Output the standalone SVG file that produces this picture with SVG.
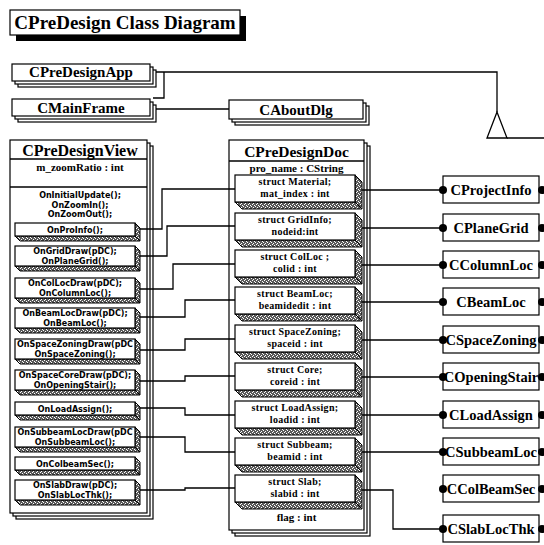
<svg xmlns="http://www.w3.org/2000/svg" width="544" height="545" viewBox="0 0 544 545">
<defs>
<pattern id="ht" width="4" height="4" patternUnits="userSpaceOnUse"><rect width="4" height="4" fill="#5a5a5a"/><path d="M0,0h1v1h-1zM2,1h1v1h-1zM1,3h1v1h-1zM3,2h1v1h-1z" fill="#fff"/></pattern>
</defs>
<style>
.b{fill:#fff;stroke:#000;stroke-width:1.2}
.h{fill:url(#ht);stroke:#000;stroke-width:1}
.ln{fill:none;stroke:#000;stroke-width:1.3}
.t{font-family:"Liberation Serif",serif;font-weight:bold;text-anchor:middle;fill:#000}
.m{font-family:"DejaVu Sans","Liberation Sans",sans-serif;font-weight:bold;font-size:8px;text-anchor:middle;fill:#000}
.s{font-size:10px;letter-spacing:0.3px}
.a{font-size:11px}
.c{font-size:14.5px}
.dot{fill:#000}
</style>
<rect width="544" height="545" fill="#fff"/>

<g id="title">
<rect x="16" y="16" width="230" height="25" fill="#000"/>
<rect class="b" x="10" y="10" width="230" height="25"/>
<text class="t" x="125" y="29" font-size="19">CPreDesign Class Diagram</text>
</g>

<g id="CPreDesignApp">
<rect class="b" x="18" y="70" width="138" height="17"/>
<rect class="b" x="15" y="67" width="138" height="17"/>
<rect class="b" x="12" y="64" width="138" height="17"/>
<text class="t" x="81" y="77" font-size="15">CPreDesignApp</text>
</g>

<g id="CMainFrame">
<rect class="b" x="18" y="105" width="138" height="17"/>
<rect class="b" x="15" y="102" width="138" height="17"/>
<rect class="b" x="12" y="99" width="138" height="17"/>
<text class="t" x="81" y="112.5" font-size="15">CMainFrame</text>
</g>

<g id="CAboutDlg">
<rect class="b" x="235" y="106" width="134" height="19"/>
<rect class="b" x="232" y="103" width="134" height="19"/>
<rect class="b" x="229" y="100" width="134" height="19"/>
<text class="t" x="296" y="114.5" font-size="15">CAboutDlg</text>
</g>

<g id="CPreDesignView">
<rect class="b" x="16" y="146" width="137" height="373"/>
<rect class="b" x="13" y="143" width="137" height="373"/>
<rect class="b" x="10" y="140" width="137" height="373"/>
<line class="ln" x1="10" y1="159" x2="147" y2="159"/>
<line class="ln" x1="10" y1="187" x2="147" y2="187"/>
<text class="t" x="80" y="155.5" font-size="16">CPreDesignView</text>
<text class="t a" x="80" y="171">m_zoomRatio : int</text>
<text class="m" x="80" y="198">OnInitialUpdate();</text>
<text class="m" x="80" y="207.5">OnZoomIn();</text>
<text class="m" x="80" y="217">OnZoomOut();</text>

<g id="v1"><polygon class="h" points="135,223 140,228 140,241 135,236"/><polygon class="h" points="15,236 135,236 140,241 20,241"/><rect class="b" x="15" y="223" width="120" height="13"/><text class="m" x="75" y="232.5">OnProInfo();</text></g>
<g id="v2"><polygon class="h" points="135,246 140,251 140,271 135,266"/><polygon class="h" points="15,266 135,266 140,271 20,271"/><rect class="b" x="15" y="246" width="120" height="20"/><text class="m" x="75" y="254">OnGridDraw(pDC);</text><text class="m" x="75" y="263.5">OnPlaneGrid();</text></g>
<g id="v3"><polygon class="h" points="135,278 140,283 140,303 135,298"/><polygon class="h" points="15,298 135,298 140,303 20,303"/><rect class="b" x="15" y="278" width="120" height="20"/><text class="m" x="75" y="286">OnColLocDraw(pDC);</text><text class="m" x="75" y="295.5">OnColumnLoc();</text></g>
<g id="v4"><polygon class="h" points="135,308 140,313 140,333 135,328"/><polygon class="h" points="15,328 135,328 140,333 20,333"/><rect class="b" x="15" y="308" width="120" height="20"/><text class="m" x="75" y="316">OnBeamLocDraw(pDC);</text><text class="m" x="75" y="325.5">OnBeamLoc();</text></g>
<g id="v5"><polygon class="h" points="135,339 140,344 140,364 135,359"/><polygon class="h" points="15,359 135,359 140,364 20,364"/><rect class="b" x="15" y="339" width="120" height="20"/><text class="m" x="75" y="347">OnSpaceZoningDraw(pDC</text><text class="m" x="75" y="356.5">OnSpaceZoning();</text></g>
<g id="v6"><polygon class="h" points="135,370 140,375 140,395 135,390"/><polygon class="h" points="15,390 135,390 140,395 20,395"/><rect class="b" x="15" y="370" width="120" height="20"/><text class="m" x="75" y="378">OnSpaceCoreDraw(pDC);</text><text class="m" x="75" y="387.5">OnOpeningStair();</text></g>
<g id="v7"><polygon class="h" points="135,402 140,407 140,420 135,415"/><polygon class="h" points="15,415 135,415 140,420 20,420"/><rect class="b" x="15" y="402" width="120" height="13"/><text class="m" x="75" y="411.5">OnLoadAssign();</text></g>
<g id="v8"><polygon class="h" points="135,427 140,432 140,452 135,447"/><polygon class="h" points="15,447 135,447 140,452 20,452"/><rect class="b" x="15" y="427" width="120" height="20"/><text class="m" x="75" y="435">OnSubbeamLocDraw(pDC</text><text class="m" x="75" y="444.5">OnSubbeamLoc();</text></g>
<g id="v9"><polygon class="h" points="135,457 140,462 140,475 135,470"/><polygon class="h" points="15,470 135,470 140,475 20,475"/><rect class="b" x="15" y="457" width="120" height="13"/><text class="m" x="75" y="466.5">OnColbeamSec();</text></g>
<g id="v10"><polygon class="h" points="135,480 140,485 140,505 135,500"/><polygon class="h" points="15,500 135,500 140,505 20,505"/><rect class="b" x="15" y="480" width="120" height="20"/><text class="m" x="75" y="488">OnSlabDraw(pDC);</text><text class="m" x="75" y="497.5">OnSlabLocThk();</text></g>
</g>

<g id="CPreDesignDoc">
<rect class="b" x="235" y="146" width="135" height="390"/>
<rect class="b" x="232" y="143" width="135" height="390"/>
<rect class="b" x="229" y="140" width="135" height="390"/>
<line class="ln" x1="229" y1="161" x2="364" y2="161"/>
<text class="t" x="296.5" y="156.5" font-size="15.5">CPreDesignDoc</text>
<text class="t a" x="296.5" y="172">pro_name : CString</text>
<text class="t a" x="296.5" y="521">flag : int</text>

<g id="d1"><polygon class="h" points="355,175 362,182 362,209 355,202"/><polygon class="h" points="235,202 355,202 362,209 242,209"/><rect class="b" x="235" y="175" width="120" height="27"/><text class="t s" x="295" y="185">struct Material;</text><text class="t s" x="295" y="196.5">mat_index : int</text></g>
<g id="d2"><polygon class="h" points="355,213 362,220 362,247 355,240"/><polygon class="h" points="235,240 355,240 362,247 242,247"/><rect class="b" x="235" y="213" width="120" height="27"/><text class="t s" x="295" y="223">struct GridInfo;</text><text class="t s" x="295" y="234.5">nodeid:int</text></g>
<g id="d3"><polygon class="h" points="355,250 362,257 362,284 355,277"/><polygon class="h" points="235,277 355,277 362,284 242,284"/><rect class="b" x="235" y="250" width="120" height="27"/><text class="t s" x="295" y="260">struct ColLoc ;</text><text class="t s" x="295" y="271.5">colid : int</text></g>
<g id="d4"><polygon class="h" points="355,287 362,294 362,321 355,314"/><polygon class="h" points="235,314 355,314 362,321 242,321"/><rect class="b" x="235" y="287" width="120" height="27"/><text class="t s" x="295" y="297">struct BeamLoc;</text><text class="t s" x="295" y="308.5">beamidedit : int</text></g>
<g id="d5"><polygon class="h" points="355,325 362,332 362,359 355,352"/><polygon class="h" points="235,352 355,352 362,359 242,359"/><rect class="b" x="235" y="325" width="120" height="27"/><text class="t s" x="295" y="335">struct SpaceZoning;</text><text class="t s" x="295" y="346.5">spaceid : int</text></g>
<g id="d6"><polygon class="h" points="355,363 362,370 362,397 355,390"/><polygon class="h" points="235,390 355,390 362,397 242,397"/><rect class="b" x="235" y="363" width="120" height="27"/><text class="t s" x="295" y="373">struct Core;</text><text class="t s" x="295" y="384.5">coreid : int</text></g>
<g id="d7"><polygon class="h" points="355,401 362,408 362,435 355,428"/><polygon class="h" points="235,428 355,428 362,435 242,435"/><rect class="b" x="235" y="401" width="120" height="27"/><text class="t s" x="295" y="411">struct LoadAssign;</text><text class="t s" x="295" y="422.5">loadid : int</text></g>
<g id="d8"><polygon class="h" points="355,438 362,445 362,472 355,465"/><polygon class="h" points="235,465 355,465 362,472 242,472"/><rect class="b" x="235" y="438" width="120" height="27"/><text class="t s" x="295" y="448">struct Subbeam;</text><text class="t s" x="295" y="459.5">beamid : int</text></g>
<g id="d9"><polygon class="h" points="355,475 362,482 362,509 355,502"/><polygon class="h" points="235,502 355,502 362,509 242,509"/><rect class="b" x="235" y="475" width="120" height="27"/><text class="t s" x="295" y="485">struct Slab;</text><text class="t s" x="295" y="496.5">slabid : int</text></g>
</g>

<g id="CProjectInfo"><rect class="b" x="443" y="176" width="96" height="27"/><text class="t c" x="491" y="194.5">CProjectInfo</text><circle class="dot" cx="443" cy="190" r="4"/><circle class="dot" cx="542" cy="190" r="4"/></g>
<g id="CPlaneGrid"><rect class="b" x="443" y="214" width="96" height="27"/><text class="t c" x="491" y="232.5">CPlaneGrid</text><circle class="dot" cx="443" cy="228" r="4"/><circle class="dot" cx="542" cy="228" r="4"/></g>
<g id="CColumnLoc"><rect class="b" x="443" y="251" width="96" height="27"/><text class="t c" x="491" y="269.5">CColumnLoc</text><circle class="dot" cx="443" cy="265" r="4"/><circle class="dot" cx="542" cy="265" r="4"/></g>
<g id="CBeamLoc"><rect class="b" x="443" y="288" width="96" height="27"/><text class="t c" x="491" y="306.5">CBeamLoc</text><circle class="dot" cx="443" cy="302" r="4"/><circle class="dot" cx="542" cy="302" r="4"/></g>
<g id="CSpaceZoning"><rect class="b" x="443" y="326" width="96" height="27"/><text class="t c" x="491" y="344.5">CSpaceZoning</text><circle class="dot" cx="443" cy="340" r="4"/><circle class="dot" cx="542" cy="340" r="4"/></g>
<g id="COpeningStair"><rect class="b" x="443" y="363" width="96" height="27"/><text class="t c" x="491" y="381.5">COpeningStair</text><circle class="dot" cx="443" cy="377" r="4"/><circle class="dot" cx="542" cy="377" r="4"/></g>
<g id="CLoadAssign"><rect class="b" x="443" y="401" width="96" height="27"/><text class="t c" x="491" y="419.5">CLoadAssign</text><circle class="dot" cx="443" cy="415" r="4"/><circle class="dot" cx="542" cy="415" r="4"/></g>
<g id="CSubbeamLoc"><rect class="b" x="443" y="438" width="96" height="27"/><text class="t c" x="491" y="456.5">CSubbeamLoc</text><circle class="dot" cx="443" cy="452" r="4"/><circle class="dot" cx="542" cy="452" r="4"/></g>
<g id="CColBeamSec"><rect class="b" x="443" y="475" width="96" height="27"/><text class="t c" x="491" y="493.5">CColBeamSec</text><circle class="dot" cx="443" cy="489" r="4"/><circle class="dot" cx="542" cy="489" r="4"/></g>
<g id="CSlabLocThk"><rect class="b" x="443" y="515" width="96" height="27"/><text class="t c" x="491" y="533.5">CSlabLocThk</text><circle class="dot" cx="443" cy="529" r="4"/><circle class="dot" cx="542" cy="529" r="4"/></g>

<g id="connectors">
<path class="ln" d="M156,72 H497 V112"/>
<polygon points="497,112 487,138 507,138" fill="#fff" stroke="#000" stroke-width="1.3"/>
<path class="ln" d="M507,138 H544"/>
<path class="ln" d="M164,72 V98 H153"/>
<path class="ln" d="M156,109 H229"/>
<path class="ln" d="M140,229 H162 V189 H235"/>
<path class="ln" d="M140,256 H167 V226 H235"/>
<path class="ln" d="M140,289 H173 V264 H235"/>
<path class="ln" d="M140,317 H185 V300 H235"/>
<path class="ln" d="M140,350 H185 V339 H235"/>
<path class="ln" d="M140,381 H185 V376 H235"/>
<path class="ln" d="M140,408 H185 V415 H235"/>
<path class="ln" d="M140,437 H185 V452 H235"/>
<path class="ln" d="M140,490 H185 V488 H235"/>
<path class="ln" d="M362,190 H443"/>
<path class="ln" d="M362,228 H443"/>
<path class="ln" d="M362,265 H443"/>
<path class="ln" d="M362,302 H443"/>
<path class="ln" d="M362,340 H443"/>
<path class="ln" d="M362,377 H443"/>
<path class="ln" d="M362,415 H443"/>
<path class="ln" d="M362,452 H443"/>
<path class="ln" d="M362,490 H393 V529 H443"/>
</g>
</svg>
